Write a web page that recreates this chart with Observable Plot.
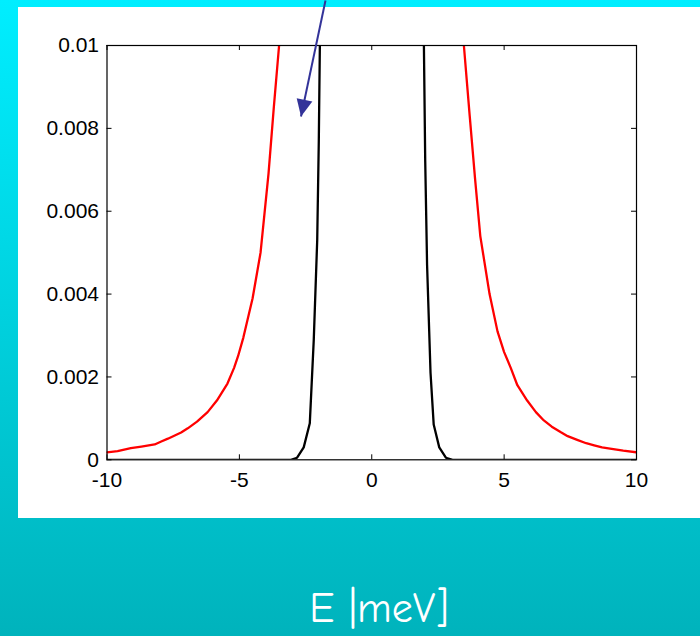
<!DOCTYPE html>
<html><head><meta charset="utf-8">
<script src="https://cdn.jsdelivr.net/npm/d3@7"></script>
<script src="https://cdn.jsdelivr.net/npm/@observablehq/plot@0.6"></script>
<style>
html,body{margin:0;padding:0;}
body{width:700px;height:636px;overflow:hidden;position:relative;background:linear-gradient(to bottom,#00EEFF 0%,#00B3BC 100%);}
#panel{position:absolute;left:18px;top:7px;width:682px;height:511px;background:#fff;}
#chart{position:absolute;left:0;top:0;}
#xlabel{position:absolute;left:379px;top:588px;transform:translateX(-50%);color:#fff;font-family:"Comic Sans MS","Comic Neue","DejaVu Sans",sans-serif;font-size:42px;line-height:1;white-space:nowrap;}
</style></head><body>
<div id="panel"></div><div id="chart"></div><div id="xlabel">E |meV]</div>
<script>
// Tick values and labels
const xTicks = [-10, -5, 0, 5, 10];
const xTickLabels = ["-10", "-5", "0", "5", "10"];
const yTicks = [0, 0.002, 0.004, 0.006, 0.008, 0.01];
const yTickLabels = ["0", "0.002", "0.004", "0.006", "0.008", "0.01"];

// Red curve, left branch
const redLeftE = [-10.0, -9.6, -9.1, -8.7, -8.2, -7.95, -7.7, -7.2, -6.95, -6.6, -6.2, -5.85, -5.45, -5.2, -5.05, -4.85, -4.5, -4.2, -3.9, -3.7, -3.5, -3.3];
const redLeftV = [0.00018, 0.00021, 0.00028, 0.00032, 0.00037, 0.00044, 0.00051, 0.00066, 0.00076, 0.00092, 0.00115, 0.00143, 0.00184, 0.00222, 0.00250, 0.00295, 0.0039, 0.0050, 0.0069, 0.0085, 0.0100, 0.0120];
// Red curve, right branch
const redRightE = [3.3, 3.48, 3.7, 3.9, 4.1, 4.45, 4.75, 5.0, 5.25, 5.5, 5.87, 6.2, 6.5, 6.8, 7.13, 7.4, 7.76, 8.1, 8.4, 8.7, 9.0, 9.5, 10.0];
const redRightV = [0.0120, 0.0100, 0.0083, 0.0068, 0.0054, 0.0040, 0.0031, 0.0026, 0.00222, 0.0018, 0.00143, 0.00115, 0.00095, 0.00080, 0.00067, 0.00057, 0.00048, 0.00040, 0.00035, 0.00030, 0.00027, 0.00022, 0.00018];
// Black curve, left branch
const blackLeftE = [-10, -3.05, -2.82, -2.57, -2.34, -2.19, -2.06, -2.0, -1.96, -1.92];
const blackLeftV = [0, 0, 0.00005, 0.0003, 0.00088, 0.0029, 0.0053, 0.0077, 0.0100, 0.0125];
// Black curve, right branch
const blackRightE = [1.93, 1.97, 2.02, 2.09, 2.22, 2.34, 2.55, 2.8, 3.05, 10];
const blackRightV = [0.0125, 0.0100, 0.0072, 0.0047, 0.0021, 0.00085, 0.0003, 0.00005, 0, 0];
// Annotation arrow (start above the axes, tip inside)
const arrowFrom = [-1.747, 0.011086];
const arrowTo = [-2.672, 0.008286];

const rows = (E, V, b) => E.map((e, i) => ({E: e, v: V[i], b}));
const red = [...rows(redLeftE, redLeftV, "L"), ...rows(redRightE, redRightV, "R")];
const black = [...rows(blackLeftE, blackLeftV, "L"), ...rows(blackRightE, blackRightV, "R")];

const W = 700, H = 520, mL = 106.5, mR = 64, mT = 45, mB = 60.7;
const innerW = W - mL - mR, innerH = H - mT - mB;
const kx = innerW / 20, ky = innerH / 0.01;
// clockwise angle from "up" of the arrow direction, in screen space
const ang = Math.atan2((arrowTo[0] - arrowFrom[0]) * kx, (arrowTo[1] - arrowFrom[1]) * ky) * 180 / Math.PI;
const arrowCol = "#333399";

const chart = Plot.plot({
  width: W, height: H,
  marginLeft: mL, marginRight: mR, marginTop: mT, marginBottom: mB,
  style: {background: "transparent", fontFamily: "'Liberation Sans', Arial, sans-serif", fontSize: "21px", color: "black", overflow: "visible"},
  x: {domain: [-10, 10], ticks: xTicks, tickFormat: d => xTickLabels[xTicks.indexOf(d)], tickSize: 0, tickPadding: 12, label: null},
  y: {domain: [0, 0.01], ticks: yTicks, tickFormat: d => yTickLabels[yTicks.indexOf(d)], tickSize: 0, tickPadding: 8, label: null},
  marks: [
    Plot.line(red, {x: "E", y: "v", z: "b", stroke: "#ff0000", strokeWidth: 2.3, clip: true}),
    Plot.line(black, {x: "E", y: "v", z: "b", stroke: "#000000", strokeWidth: 2.3, clip: true}),
    Plot.frame({stroke: "black", strokeWidth: 1.2}),
    Plot.tickX(xTicks, {x: d => d, insetTop: innerH - 5, stroke: "black"}),
    Plot.tickX(xTicks, {x: d => d, insetBottom: innerH - 5, stroke: "black"}),
    Plot.tickY(yTicks, {y: d => d, insetRight: innerW - 5, stroke: "black"}),
    Plot.tickY(yTicks, {y: d => d, insetLeft: innerW - 5, stroke: "black"}),
    Plot.link([{x1: arrowFrom[0], y1: arrowFrom[1], x2: arrowTo[0], y2: arrowTo[1]}], {x1: "x1", y1: "y1", x2: "x2", y2: "y2", stroke: arrowCol, strokeWidth: 2}),
    Plot.vector([{x: arrowTo[0], y: arrowTo[1]}], {x: "x", y: "y", shape: "spike", length: 17, r: 8, rotate: ang, anchor: "end", fill: arrowCol, stroke: "none"})
  ]
});
document.getElementById("chart").appendChild(chart);
</script>
</body></html>
